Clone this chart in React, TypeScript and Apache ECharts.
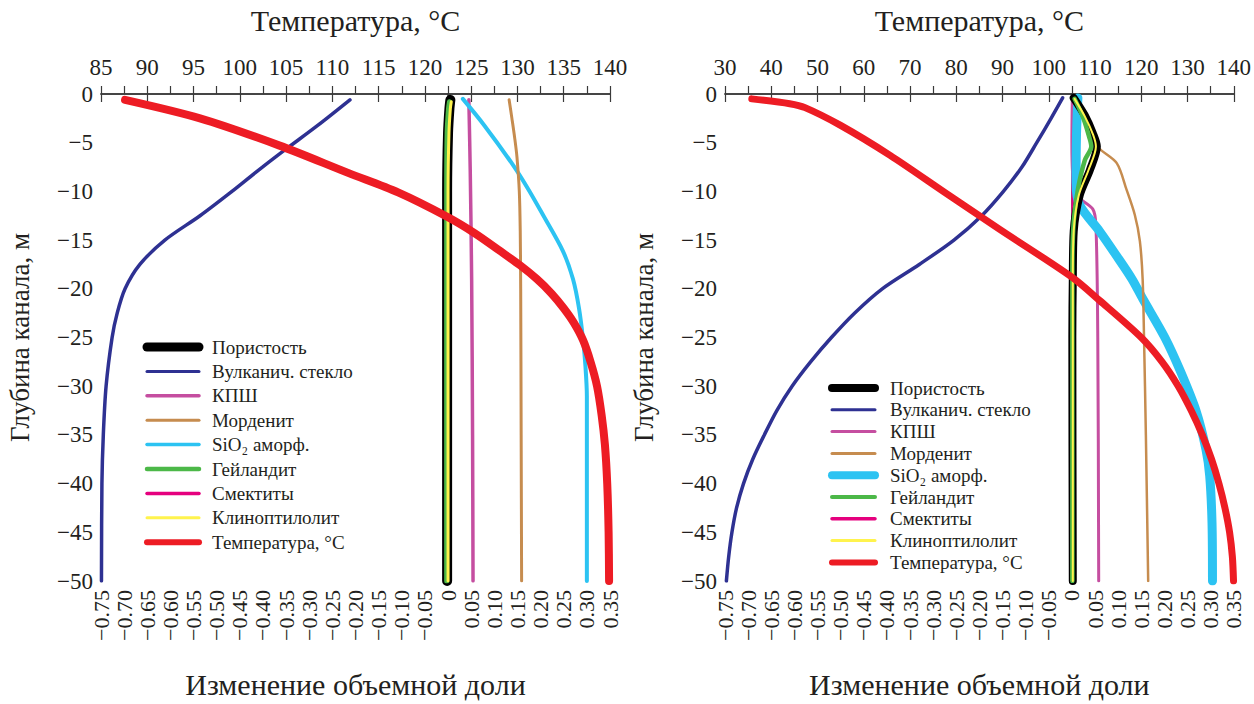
import { useEffect, useRef } from 'react';
import * as echarts from 'echarts';

// ---------- names / colours ----------
const NAMES = [
  'Пористость',
  'Вулканич. стекло',
  'КПШ',
  'Морденит',
  'SiO₂ аморф.',
  'Гейландит',
  'Смектиты',
  'Клиноптилолит',
  'Температура, °C',
];
const COLORS = ['#000000', '#2e3192', '#c54ea0', '#c68c4f', '#2cc3f2', '#4cb848', '#e5007e', '#fff34d', '#ed1c24'];

// ---------- axis ranges ----------
const FRAC_MIN = -0.75;
const FRAC_MAX = 0.35;
const FRAC_STEP = 0.05;
const DEPTH_MIN = -50;
const DEPTH_MAX = 0;
const DEPTH_STEP = 5;
const L_TEMP_RANGE = [85, 140, 5];
const R_TEMP_RANGE = [30, 140, 10];

// ---------- left panel data: [volume fraction change, depth] ----------
const L_GLASS: [number, number][] = [
  [-0.212, -0.6], [-0.281, -3.2], [-0.357, -5.9], [-0.417, -8.1], [-0.467, -10],
  [-0.536, -12.5], [-0.612, -15], [-0.666, -17.5], [-0.698, -20], [-0.715, -22.5],
  [-0.726, -25], [-0.739, -30], [-0.745, -35], [-0.748, -40], [-0.749, -50],
];
const L_POR: [number, number][] = [[0.005, -0.6], [0.003, -1.5], [0.0, -4], [-0.002, -10], [-0.002, -50]];
const L_GEI: [number, number][] = [[0.003, -0.8], [0.001, -1.5], [-0.002, -4], [-0.003, -10], [-0.003, -50]];
const L_CLI: [number, number][] = [[0.007, -0.8], [0.005, -1.5], [0.002, -4], [0.0, -10], [0.0, -50]];
const L_SME: [number, number][] = [[0.0, -0.7], [0.0, -50]];
const L_KPSH: [number, number][] = [[0.045, -0.6], [0.048, -8], [0.051, -19], [0.053, -35], [0.054, -50]];
const L_MORD: [number, number][] = [
  [0.132, -0.6], [0.138, -2.5], [0.144, -4.5], [0.149, -6.5], [0.154, -10], [0.156, -14],
  [0.157, -20], [0.158, -35], [0.159, -50],
];
const L_SIO2: [number, number][] = [
  [0.032, -0.5], [0.078, -3.2], [0.142, -7.4], [0.175, -9.9], [0.205, -12.4], [0.248, -16.1],
  [0.27, -19.0], [0.283, -22.0], [0.292, -25.3], [0.297, -28], [0.3, -31], [0.3, -36], [0.3, -50],
];
// temperature: [°C, depth]
const L_TEMP: [number, number][] = [
  [87.6, -0.6], [95.7, -2.5], [104.3, -5.3], [111.7, -8.1], [117.1, -10.1], [122.4, -12.6],
  [125.4, -14.3], [128.1, -16.1], [130.3, -17.6], [132.1, -19.0], [133.7, -20.5], [135.0, -22.0],
  [136.1, -23.5], [137.1, -25.3], [137.9, -27.5], [138.6, -30.0], [139.1, -33.0], [139.45, -36],
  [139.7, -40], [139.85, -45], [139.9, -50],
];

// ---------- right panel data ----------
const R_GLASS: [number, number][] = [
  [-0.02, -0.4], [-0.045, -2.5], [-0.076, -5], [-0.108, -7.5], [-0.148, -10], [-0.195, -12.5],
  [-0.255, -15], [-0.33, -17.5], [-0.41, -20], [-0.47, -22.5], [-0.52, -25], [-0.565, -27.5],
  [-0.605, -30], [-0.638, -32.5], [-0.665, -35], [-0.69, -37.5], [-0.71, -40], [-0.725, -42.5],
  [-0.735, -45], [-0.742, -47.5], [-0.747, -50],
];
const R_POR: [number, number][] = [
  [0.004, -0.4], [0.028, -2.2], [0.045, -4.0], [0.054, -5.4], [0.039, -7.8], [0.017, -10.4],
  [0.004, -14.1], [0.002, -19], [0.001, -25], [0.002, -50],
];
const R_GEI: [number, number][] = [
  [0.006, -0.5], [0.025, -2.5], [0.038, -4.5], [0.042, -5.4], [0.028, -6.8], [0.013, -9.8],
  [0.004, -13.1], [0.001, -18], [0.001, -50],
];
const R_CLI: [number, number][] = [
  [0.006, -0.5], [0.028, -2.3], [0.046, -4.2], [0.052, -5.4], [0.036, -7.8], [0.015, -10.4],
  [0.004, -14], [0.002, -19], [0.002, -50],
];
const R_SME: [number, number][] = [[0.002, -0.5], [0.002, -50]];
const R_KPSH: [number, number][] = [
  [0.001, -0.5], [0.0, -5], [0.006, -10.1], [0.045, -11.8], [0.052, -13.5], [0.056, -25], [0.058, -50],
];
const R_MORD: [number, number][] = [
  [0.009, -0.4], [0.03, -2.5], [0.056, -5.4], [0.097, -7.1], [0.118, -9.8], [0.136, -12.4],
  [0.147, -15.1], [0.153, -19.0], [0.156, -25], [0.16, -35], [0.165, -50],
];
const R_SIO2: [number, number][] = [
  [0.013, -0.4], [0.01, -4.2], [0.009, -9.1], [0.017, -11.4], [0.06, -14.1], [0.095, -16.5],
  [0.13, -19.0], [0.153, -21.0], [0.201, -25.0], [0.235, -28.5], [0.269, -32.6], [0.29, -36.5],
  [0.298, -39.2], [0.303, -44], [0.304, -50],
];
const R_TEMP: [number, number][] = [
  [35.8, -0.5], [44.0, -1.0], [47.3, -1.4], [54.9, -3.2], [65.7, -6.3], [77.5, -10.1],
  [89.4, -13.9], [105.0, -18.8], [111.0, -21.2], [120.0, -25.0], [124.5, -27.5], [128.0, -30],
  [130.8, -32.5], [133.2, -35], [135.2, -37.5], [136.8, -40], [138.1, -42.5], [139.1, -45],
  [139.7, -47.5], [139.95, -50],
];

const LEFT_SETS = [L_POR, L_GLASS, L_KPSH, L_MORD, L_SIO2, L_GEI, L_SME, L_CLI, L_TEMP];
const RIGHT_SETS = [R_POR, R_GLASS, R_KPSH, R_MORD, R_SIO2, R_GEI, R_SME, R_CLI, R_TEMP];

// styles (line widths per series, legend icon thickness)
const L_WIDTH = [10, 3.5, 3.5, 3, 4, 5, 3, 3, 8];
const R_WIDTH = [8, 3.5, 3, 2.5, 9, 4.5, 3, 2, 7];
const L_LEG_W = [9, 3, 3.5, 3, 3.5, 4.5, 3.5, 3, 6];
const R_LEG_W = [8, 3, 3, 3, 8, 4, 3.5, 3, 6];
// drawing order (z)
const Z_ORDER = [6, 1, 3, 5, 4, 7, 2, 8, 9];

const FONT = '"Liberation Serif", "Times New Roman", serif';
const TXT = '#231f20';

function fracLabel(v: number) {
  const r = Math.round(v * 100) / 100;
  if (r === 0) return '0';
  return (r < 0 ? '−' : '') + Math.abs(r).toFixed(2);
}
function depthLabel(v: number) {
  if (v === 0) return '0';
  return (v < 0 ? '−' : '') + Math.abs(v);
}

export default function App() {
  const ref = useRef<HTMLDivElement>(null);
  useEffect(() => {
    if (!ref.current) return;
    const chart = echarts.init(ref.current, undefined, { renderer: 'svg' });

    const axisLine = { show: true, lineStyle: { color: '#3a3a3a', width: 1.5 } };
    const grids = [
      { left: 101, top: 88, width: 509, height: 504 },
      { left: 725, top: 88, width: 509, height: 504 },
    ];

    const xAxes: any[] = [];
    const yAxes: any[] = [];
    [L_TEMP_RANGE, R_TEMP_RANGE].forEach((tr, gi) => {
      xAxes.push({
        type: 'value',
        gridIndex: gi,
        position: 'bottom',
        min: FRAC_MIN,
        max: FRAC_MAX,
        interval: FRAC_STEP,
        name: 'Изменение объемной доли',
        nameLocation: 'middle',
        nameGap: 88,
        nameTextStyle: { fontFamily: FONT, fontSize: 30, color: TXT },
        axisLine,
        axisTick: { show: true, inside: true, length: 8, lineStyle: { color: '#3a3a3a', width: 1.2 } },
        axisLabel: {
          rotate: 90,
          formatter: fracLabel,
          fontFamily: FONT,
          fontSize: 22,
          color: TXT,
          margin: 9,
          showMinLabel: true,
          showMaxLabel: true,
        },
        splitLine: { show: false },
      });
      xAxes.push({
        type: 'value',
        gridIndex: gi,
        position: 'top',
        min: tr[0],
        max: tr[1],
        interval: tr[2],
        name: 'Температура, °C',
        nameLocation: 'middle',
        nameGap: 59,
        nameTextStyle: { fontFamily: FONT, fontSize: 30, color: TXT },
        axisLine,
        axisTick: { show: true, inside: true, length: 8, lineStyle: { color: '#3a3a3a', width: 1.2 } },
        axisLabel: { fontFamily: FONT, fontSize: 23, color: TXT, margin: 15, showMinLabel: true, showMaxLabel: true },
        splitLine: { show: false },
      });
      yAxes.push({
        type: 'value',
        gridIndex: gi,
        position: 'left',
        min: DEPTH_MIN,
        max: DEPTH_MAX,
        interval: DEPTH_STEP,
        name: 'Глубина канала, м',
        nameLocation: 'middle',
        nameGap: 68,
        nameTextStyle: { fontFamily: FONT, fontSize: 27, color: TXT },
        axisLine,
        axisTick: { show: false },
        axisLabel: { formatter: depthLabel, fontFamily: FONT, fontSize: 23, color: TXT, margin: 8 },
        splitLine: { show: false },
      });
    });

    const series: any[] = [];
    [LEFT_SETS, RIGHT_SETS].forEach((sets, gi) => {
      const widths = gi === 0 ? L_WIDTH : R_WIDTH;
      sets.forEach((data, i) => {
        const isTemp = i === 8;
        series.push({
          type: 'line',
          name: NAMES[i],
          data,
          xAxisIndex: gi * 2 + (isTemp ? 1 : 0),
          yAxisIndex: gi,
          symbol: 'none',
          showSymbol: false,
          smooth: 0.3,
          silent: true,
          z: 2 + Z_ORDER[i],
          lineStyle: { color: COLORS[i], width: widths[i], cap: 'round', join: 'round' },
        });
      });
    });

    // legends drawn with graphic elements
    const graphic: any[] = [];
    const legends = [
      { x1: 147, x2: 199, tx: 212, y0: 347, step: 24.4, w: L_LEG_W },
      { x1: 832, x2: 875, tx: 890, y0: 388, step: 21.8, w: R_LEG_W },
    ];
    legends.forEach((lg) => {
      NAMES.forEach((nm, i) => {
        const y = lg.y0 + i * lg.step;
        graphic.push({
          type: 'line',
          shape: { x1: lg.x1, y1: y, x2: lg.x2, y2: y },
          style: { stroke: COLORS[i], lineWidth: lg.w[i], lineCap: 'round' },
          z: 100,
        });
        graphic.push({
          type: 'text',
          x: lg.tx,
          y,
          style: { text: nm, fontFamily: FONT, fontSize: 19, fill: TXT, verticalAlign: 'middle', align: 'left' },
          z: 100,
        });
      });
    });

    chart.setOption({
      animation: false,
      backgroundColor: '#ffffff',
      grid: grids,
      xAxis: xAxes,
      yAxis: yAxes,
      series,
      graphic,
    });
    return () => chart.dispose();
  }, []);

  return (
    <div
      ref={ref}
      style={{ position: 'fixed', left: 0, top: 0, width: 1254, height: 704, background: '#fff' }}
    />
  );
}
